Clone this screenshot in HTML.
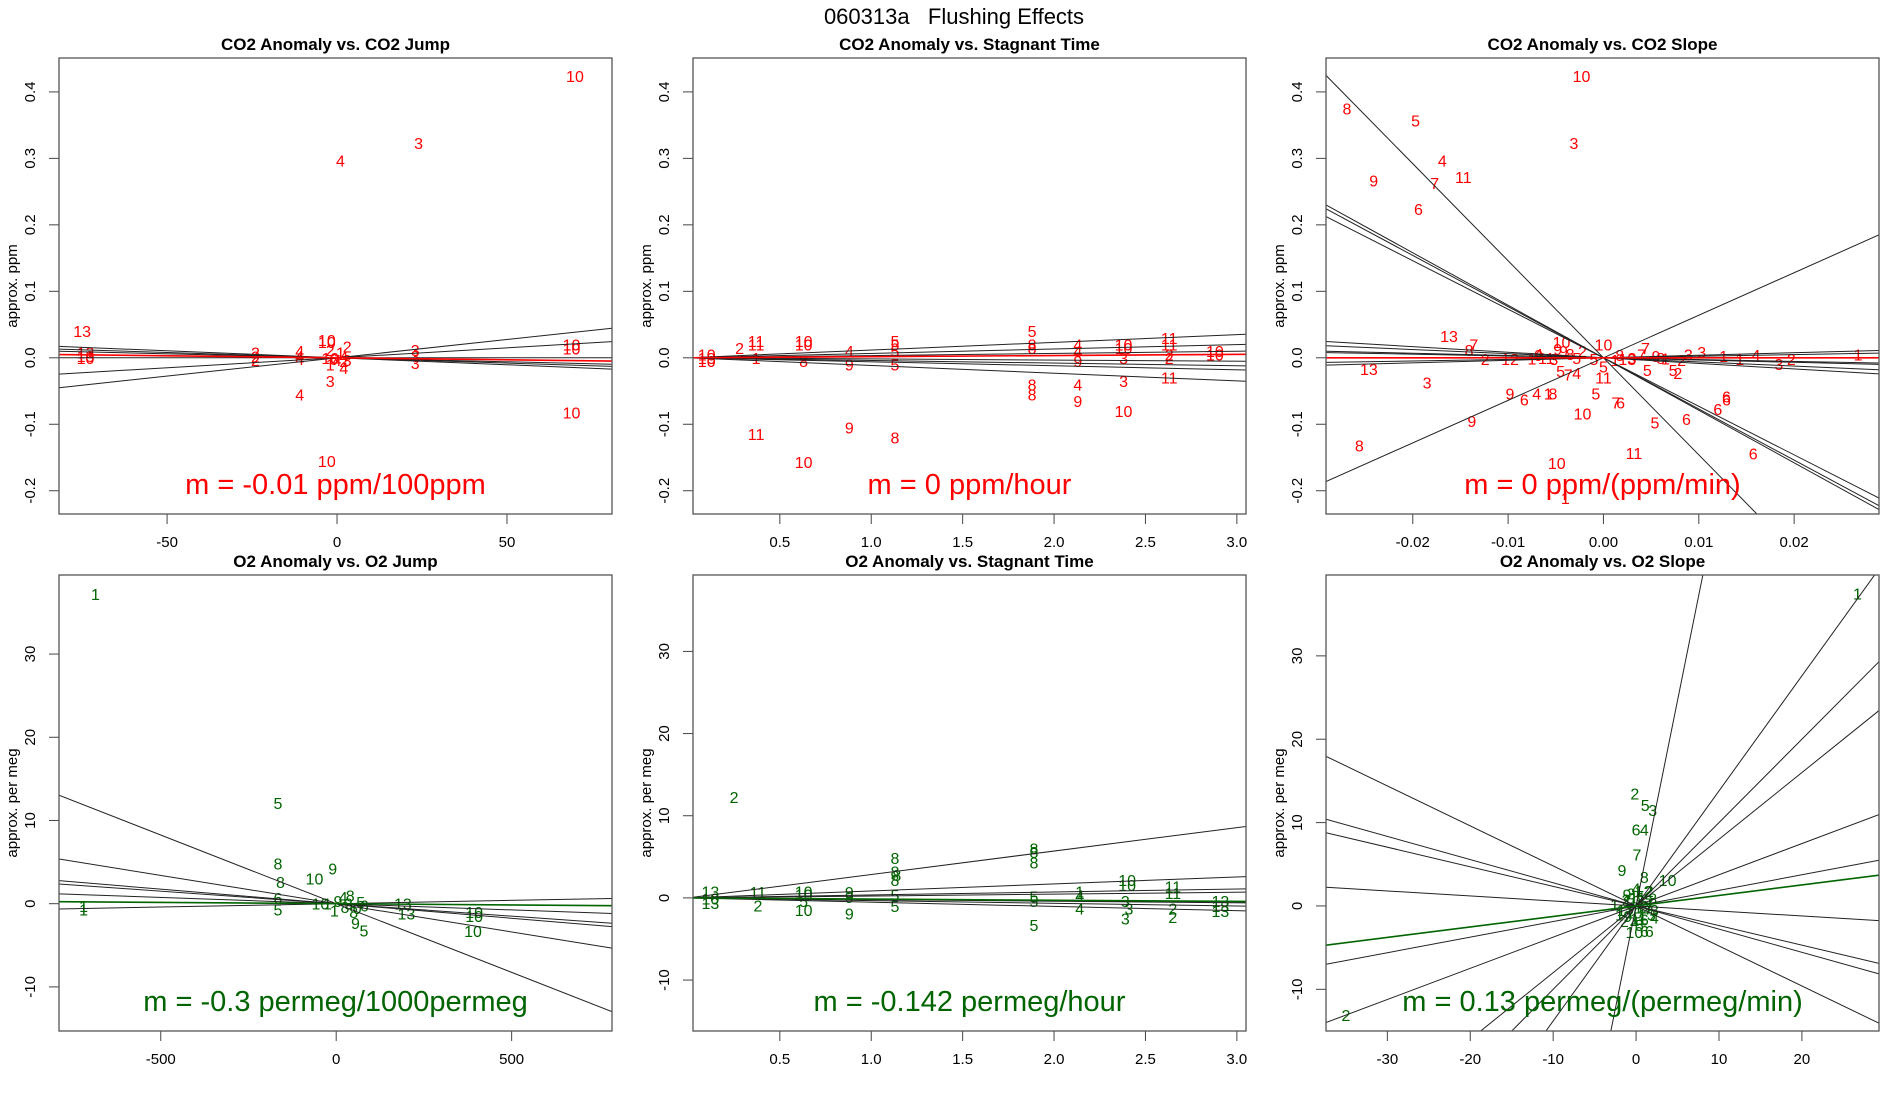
<!DOCTYPE html>
<html><head><meta charset="utf-8"><style>
html,body{margin:0;padding:0;background:#fff;width:1900px;height:1100px;overflow:hidden}
svg{display:block;font-family:"Liberation Sans",Arial,sans-serif;overflow:hidden}
</style></head><body>
<svg id="fig" width="1900" height="1100" viewBox="0 0 1900 1100">
<text x="954" y="24" text-anchor="middle" font-size="22" fill="#000" style="white-space:pre" xml:space="preserve">060313a   Flushing Effects</text>
</svg>
<script>
// ---------- data ----------
const p1Labels=["10","3","4","13","13","13","10","2","2","2","4","4","4","10","10","2","2","1","4","10","6","4","2","3","1","4","3","3","3","3","4","10","10","10","10"];
const p1X=[70,24,1,-75,-74,-74,-74,-24,-24,-24,-11,-11,-11,-3,-3,-2,3,1,2,-2,-1,0,2,3,-2,2,23,23,23,-2,-11,-3,69,69,69];
const p1Y=[0.424,0.323,0.297,0.04,0.008,0.003,0.0,0.008,0.002,-0.003,0.01,0.003,-0.002,0.027,0.024,0.012,0.017,0.008,0.002,0.0,-0.002,-0.003,-0.005,-0.003,-0.01,-0.015,0.012,0.003,-0.008,-0.035,-0.055,-0.155,-0.082,0.02,0.014];
const p1Slopes=[0.00055,0.0003,0,-0.00012,-0.00016,-0.00021];
const p1Fit=-0.00006;

const p2Labels=["10","13","10","2","11","11","1","10","10","8","4","9","5","5","5","5","5","8","8","4","4","9","10","10","3","11","11","2","2","10","10","11","10","9","8","8","8","4","9","3","10","11"];
const p2X=[0.1,0.1,0.1,0.28,0.37,0.37,0.37,0.63,0.63,0.63,0.88,0.88,1.13,1.13,1.13,1.13,1.88,1.88,1.88,2.13,2.13,2.13,2.38,2.38,2.38,2.63,2.63,2.63,2.63,2.88,2.88,0.37,0.63,0.88,1.13,1.88,1.88,2.13,2.13,2.38,2.38,2.63];
const p2Y=[0.005,0.0,-0.005,0.015,0.025,0.02,0.0,0.025,0.02,-0.005,0.01,-0.01,0.025,0.02,0.01,-0.01,0.04,0.02,0.015,0.02,0.01,-0.005,0.02,0.015,0.0,0.03,0.02,0.005,0.0,0.01,0.005,-0.115,-0.157,-0.105,-0.12,-0.04,-0.055,-0.04,-0.065,-0.035,-0.08,-0.03];
const p2Slopes=[0.0116,0.0066,0.0033,0.0017,-0.0017,-0.004,-0.006,-0.0116];
const p2Fit=0.0017;

const p3Labels=["10","8","5","3","4","11","9","7","6","13","7","8","2","13","3","10","10","12","9","1","4","11","3","5","9","9","8","2","5","1","8","13","3","7","9","8","1","2","3","3","1","1","4","3","2","1","9","6","4","1","8","5","7","4","5","11","5","7","6","10","9","8","10","11","5","6","6","6","6","6","1","5","2","5","7"];
const p3X=[-0.0023,-0.0269,-0.0197,-0.0031,-0.0169,-0.0147,-0.0241,-0.0177,-0.0194,-0.0162,-0.0136,-0.0141,-0.0124,-0.0246,-0.0185,0,-0.0044,-0.0098,-0.0068,-0.0075,-0.0068,-0.006,-0.0052,-0.0028,-0.0048,-0.0042,-0.0035,-0.0022,-0.001,0.0012,0.0017,0.0025,0.003,0.004,0.0055,0.006,0.0065,0.0082,0.0089,0.0103,0.0126,0.0143,0.016,0.0184,0.0197,0.0267,-0.0098,-0.0083,-0.007,-0.0058,-0.0053,-0.0045,-0.0037,-0.0028,0,0,-0.0008,0.0013,0.0018,-0.0022,-0.0138,-0.0256,-0.0049,0.0032,0.0054,0.0087,0.012,0.0129,0.0129,0.0157,-0.004,0.0046,0.0078,0.0073,0.0044];
const p3Y=[0.424,0.375,0.357,0.323,0.297,0.272,0.267,0.263,0.224,0.033,0.02,0.012,-0.002,-0.017,-0.037,0.02,0.024,-0.002,0.004,-0.001,0.006,0.0,-0.002,0.0,0.013,0.01,0.006,0.01,-0.002,-0.003,0.004,-0.002,0.0,0.005,0.003,0.0,-0.001,-0.003,0.005,0.009,0.003,-0.002,0.004,-0.009,-0.002,0.005,-0.054,-0.063,-0.054,-0.054,-0.054,-0.02,-0.025,-0.023,-0.013,-0.03,-0.054,-0.067,-0.067,-0.084,-0.095,-0.132,-0.158,-0.143,-0.097,-0.092,-0.077,-0.058,-0.063,-0.144,-0.211,-0.018,-0.023,-0.018,0.015];
const p3Slopes=[-14.6,-7.9,-7.7,-7.3,6.4,-0.84,-0.62,-0.34,-0.27,0.24,0.38];
const p3Fit=0;

const p4Labels=["1","5","8","8","6","5","10","9","10","9","4","1","8","3","1","8","0","5","8","6","9","5","13","13","10","10","10","1","1"];
const p4X=[-686,-166,-166,-159,-166,-166,-62,-10,-45,5,20,-25,25,35,-5,40,60,70,50,80,55,79,190,200,393,393,390,-720,-720];
const p4Y=[37.2,12.1,4.8,2.6,0.7,-0.7,3.05,4.2,0,0.3,0.8,0,-0.4,0,-0.8,1,-0.5,0.2,-1,-0.2,-2.3,-3.2,0,-1.2,-1,-1.5,-3.3,-0.3,-0.7];
const p4Slopes=[-0.0165,-0.0068,-0.0035,-0.003,-0.0015,0.0008];
const p4Fit=-0.0003;

const p5Labels=["2","8","8","8","8","8","8","8","10","10","11","11","1","13","10","13","11","2","10","10","5","10","9","9","9","5","5","5","5","5","4","4","3","3","3","2","2","13","13","13"];
const p5X=[0.25,1.13,1.13,1.14,1.13,1.89,1.89,1.89,2.4,2.4,2.65,2.65,2.14,0.12,0.12,0.12,0.38,0.38,0.63,0.63,0.63,0.63,0.88,0.88,0.88,1.13,1.13,1.89,1.89,1.89,2.14,2.14,2.39,2.41,2.39,2.65,2.65,2.91,2.91,2.91];
const p5Y=[12.3,4.85,3.2,2.8,2.2,6.0,5.6,4.3,2.2,1.6,1.4,0.6,0.8,0.8,-0.1,-0.6,0.7,-0.9,0.8,0.4,-0.4,-1.5,0.7,0.1,-1.9,0.35,-1.0,0.15,-0.4,-3.3,0.3,-1.3,-0.4,-1.3,-2.5,-1.3,-2.3,-0.4,-1.0,-1.6];
const p5Slopes=[2.85,0.85,0.36,0.23,-0.16,-0.2,-0.33,-0.52];
const p5Fit=-0.142;

const p6Labels=["1","2","5","3","6","4","7","9","8","10","2","10","6","6","1","1","2","3","4","5","6","7","8","9","10","11","12","13","1","2","3","4","5","6","7","8","9","10","11","12","2","4"];
const p6X=[26.7,-0.15,1.1,2.0,0,1.0,0.1,-1.7,1.0,3.8,-35,-0.2,1.0,1.6,-2.6,-1.8,-1.2,-0.6,0,0.5,1.0,1.5,2.0,-1.0,-0.3,0.3,0.8,1.3,-2.0,-1.4,-0.8,-0.2,0.4,1.0,1.6,2.2,-1.1,-0.5,0.2,0.9,1.6,2.2];
const p6Y=[37.5,13.5,12.1,11.5,9.2,9.2,6.2,4.3,3.5,3.1,-13.1,-3.1,-3.0,-3.0,0.2,-0.5,0.8,1.5,2.1,1.2,0.5,-0.3,0.9,-1.2,-0.8,-1.5,-0.2,-1.0,-1.0,-1.8,-0.3,-2.0,-2.3,-1.6,0.3,-0.5,1.4,0.6,1.0,1.8,1.8,-1.4];
const p6Slopes=[4.93,1.38,1.0,0.8,0.374,0.187,-0.48,-0.278,-0.235,-0.06];
const p6Fit=0.126;

// ---------- layout ----------
const NS="http://www.w3.org/2000/svg";
const svg=document.getElementById('fig');
function mk(tag,attrs,parent){const e=document.createElementNS(NS,tag);for(const k in attrs)e.setAttribute(k,attrs[k]);(parent||svg).appendChild(e);return e;}

const panels=[
 {id:"co2-jump",title:"CO2 Anomaly vs. CO2 Jump",L:59,T:58,xr:[-81.8,80.9],yr:[-0.235,0.451],xt:[-50,0,50],xtl:["-50","0","50"],yt:[-0.2,-0.1,0,0.1,0.2,0.3,0.4],ytl:["-0.2","-0.1","0.0","0.1","0.2","0.3","0.4"],ylab:"approx. ppm",col:"#ff0000",eq:"m = -0.01 ppm/100ppm",lab:p1Labels,X:p1X,Y:p1Y,S:p1Slopes,F:p1Fit},
 {id:"co2-stagnant",title:"CO2 Anomaly vs. Stagnant Time",L:693,T:58,xr:[0.025,3.05],yr:[-0.235,0.451],xt:[0.5,1,1.5,2,2.5,3],xtl:["0.5","1.0","1.5","2.0","2.5","3.0"],yt:[-0.2,-0.1,0,0.1,0.2,0.3,0.4],ytl:["-0.2","-0.1","0.0","0.1","0.2","0.3","0.4"],ylab:"approx. ppm",col:"#ff0000",eq:"m = 0 ppm/hour",lab:p2Labels,X:p2X,Y:p2Y,S:p2Slopes,F:p2Fit},
 {id:"co2-slope",title:"CO2 Anomaly vs. CO2 Slope",L:1326,T:58,xr:[-0.0291,0.0289],yr:[-0.235,0.451],xt:[-0.02,-0.01,0,0.01,0.02],xtl:["-0.02","-0.01","0.00","0.01","0.02"],yt:[-0.2,-0.1,0,0.1,0.2,0.3,0.4],ytl:["-0.2","-0.1","0.0","0.1","0.2","0.3","0.4"],ylab:"approx. ppm",col:"#ff0000",eq:"m = 0 ppm/(ppm/min)",lab:p3Labels,X:p3X,Y:p3Y,S:p3Slopes,F:p3Fit},
 {id:"o2-jump",title:"O2 Anomaly vs. O2 Jump",L:59,T:575,xr:[-790,786],yr:[-15.3,39.5],xt:[-500,0,500],xtl:["-500","0","500"],yt:[-10,0,10,20,30],ytl:["-10","0","10","20","30"],ylab:"approx. per meg",col:"#006400",eq:"m = -0.3 permeg/1000permeg",lab:p4Labels,X:p4X,Y:p4Y,S:p4Slopes,F:p4Fit},
 {id:"o2-stagnant",title:"O2 Anomaly vs. Stagnant Time",L:693,T:575,xr:[0.025,3.05],yr:[-16.2,39.3],xt:[0.5,1,1.5,2,2.5,3],xtl:["0.5","1.0","1.5","2.0","2.5","3.0"],yt:[-10,0,10,20,30],ytl:["-10","0","10","20","30"],ylab:"approx. per meg",col:"#006400",eq:"m = -0.142 permeg/hour",lab:p5Labels,X:p5X,Y:p5Y,S:p5Slopes,F:p5Fit},
 {id:"o2-slope",title:"O2 Anomaly vs. O2 Slope",L:1326,T:575,xr:[-37.4,29.3],yr:[-15,39.7],xt:[-30,-20,-10,0,10,20],xtl:["-30","-20","-10","0","10","20"],yt:[-10,0,10,20,30],ytl:["-10","0","10","20","30"],ylab:"approx. per meg",col:"#006400",eq:"m = 0.13 permeg/(permeg/min)",lab:p6Labels,X:p6X,Y:p6Y,S:p6Slopes,F:p6Fit}
];
const W=553,H=456;

panels.forEach((p,pi)=>{
  const g=mk('g',{});
  
  
  const sx=v=>p.L+(v-p.xr[0])/(p.xr[1]-p.xr[0])*W;
  const sy=v=>p.T+H-(v-p.yr[0])/(p.yr[1]-p.yr[0])*H;
  const cp=mk('clipPath',{id:'clip'+pi},g);
  mk('rect',{x:p.L,y:p.T,width:W,height:H},cp);

  const t=mk('text',{x:p.L+W/2,y:p.T-8,'text-anchor':'middle','font-size':17,'font-weight':'bold'},g);
  t.textContent=p.title;
  
  

  const yl=mk('text',{transform:`translate(${p.L-42},${p.T+H/2}) rotate(-90)`,'text-anchor':'middle','font-size':15},g);
  yl.textContent=p.ylab;
  
  

  p.xt.forEach((v,i)=>{
    const x=sx(v);
    const tk=mk('line',{x1:x,x2:x,y1:p.T+H,y2:p.T+H+10,stroke:'#444','stroke-width':1},g);
    
    
    const tl=mk('text',{x:x,y:p.T+H+33,'text-anchor':'middle','font-size':15},g);
    tl.textContent=p.xtl[i];
    
    
  });
  p.yt.forEach((v,i)=>{
    const y=sy(v);
    const tk=mk('line',{x1:p.L-10,x2:p.L,y1:y,y2:y,stroke:'#444','stroke-width':1},g);
    
    
    const tl=mk('text',{transform:`translate(${p.L-24},${y}) rotate(-90)`,'text-anchor':'middle','font-size':15},g);
    tl.textContent=p.ytl[i];
    
    
  });

  const inner=mk('g',{'clip-path':`url(#clip${pi})`},g);
  
  
  p.lab.forEach((s,i)=>{
    const tx=mk('text',{x:sx(p.X[i]),y:sy(p.Y[i])+6,'text-anchor':'middle','font-size':16,fill:p.col},inner);
    tx.textContent=s;
    
    
  });
  p.S.forEach(b=>{
    const ln=mk('line',{x1:sx(p.xr[0]),y1:sy(b*p.xr[0]),x2:sx(p.xr[1]),y2:sy(b*p.xr[1]),stroke:'#222','stroke-width':1},inner);
    
    
  });
  const fl=mk('line',{x1:sx(p.xr[0]),y1:sy(p.F*p.xr[0]),x2:sx(p.xr[1]),y2:sy(p.F*p.xr[1]),stroke:p.col,'stroke-width':1.6},inner);
  
  

  const eq=mk('text',{x:p.L+W/2,y:p.T+H-20,'text-anchor':'middle','font-size':29,fill:p.col},g);
  eq.textContent=p.eq;
  
  

  const box=mk('rect',{x:p.L,y:p.T,width:W,height:H,fill:'none',stroke:'#555','stroke-width':1.3},g);
  
  
});
</script>
</body></html>
